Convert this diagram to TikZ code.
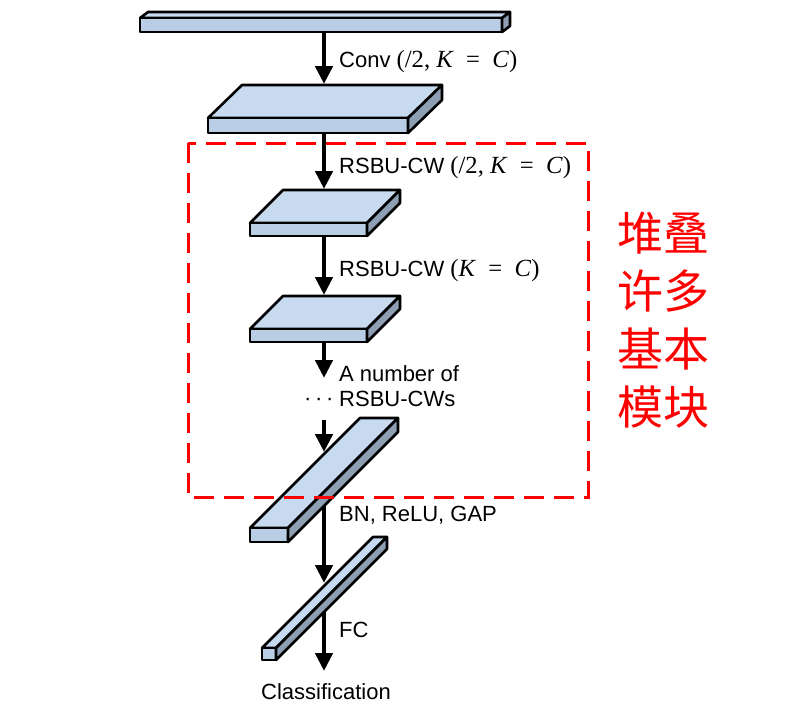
\documentclass[tikz,border=0pt]{standalone}
\usepackage{fontspec}
\setmainfont{Liberation Sans}
\newfontfamily\mth[Scale=1.12]{Liberation Serif}
\newfontfamily\cjk{Noto Sans CJK SC}
\usetikzlibrary{arrows.meta}
\definecolor{topfc}{RGB}{199,218,240}
\definecolor{frontfc}{RGB}{185,205,229}
\definecolor{sidefc}{RGB}{142,159,179}
% slab: x1, x2, top y, bottom y, depth x, depth y
\newcommand{\slab}[6]{%
  \filldraw[face,fill=topfc] (#1,#3) -- (#2,#3) -- ++(#5,-#6) -- (#1+#5,#3-#6) -- cycle;
  \filldraw[face,fill=frontfc] (#1,#3) rectangle (#2,#4);
  \filldraw[face,fill=sidefc] (#2,#3) -- ++(#5,-#6) -- (#2+#5,#4-#6) -- (#2,#4) -- cycle;}
% formula part of a label
\newcommand{\kc}[1]{{\mth(#1\textit{K}\enspace=\enspace\textit{C})}}
\begin{document}
\begin{tikzpicture}[x=1pt,y=-1pt,
    face/.style={draw=black,line width=2.6pt,line join=round},
    flow/.style={line width=4.6pt,-{Triangle[length=18pt,width=17pt]}},
    lbl/.style={anchor=west,inner sep=0pt,font=\fontsize{22}{26}\selectfont}]
  \useasboundingbox (0,0) rectangle (803,707);
  % end points of the arrows
  \coordinate (s1) at (324,31);
  \coordinate (s2n) at (324,84);
  \coordinate (s2) at (324,132);
  \coordinate (s3n) at (324,189);
  \coordinate (s3) at (324,235);
  \coordinate (s4n) at (324,295);
  \coordinate (s4) at (324,341);
  \coordinate (more) at (324,378);
  \coordinate (more2) at (324,420);
  \coordinate (s5n) at (324,452);
  \coordinate (s5) at (324,480);
  \coordinate (s6n) at (324,583);
  \coordinate (s6) at (324,600);
  \coordinate (cls) at (324,671);
  % arrows
  \draw[flow] (s1) -- (s2n);
  \draw[flow] (s2) -- (s3n);
  \draw[flow] (s3) -- (s4n);
  \draw[flow] (s4) -- (more);
  \draw[flow] (more2) -- (s5n);
  \draw[flow] (s5) -- (s6n);
  \draw[flow] (s6) -- (cls);
  % feature maps
  \slab{140}{502}{18}{32}{8}{6}
  \slab{208}{408}{118}{133}{34}{33}
  \slab{250}{367}{223}{236}{33}{33}
  \slab{250}{367}{329}{342}{33}{33}
  \slab{250}{288}{528}{542}{110}{110}
  \slab{262}{276}{648}{660}{111}{111}
  % labels
  \node[lbl] (conv) at (339,62) {Conv \kc{/2,~}};
  \node[lbl] (rsbu1) at (339,168) {RSBU-CW \kc{/2,~}};
  \node[lbl] (rsbu2) at (339,271) {RSBU-CW \kc{}};
  \node[lbl] (many) at (339,374) {A number of};
  \node[lbl] (many2) at (339,399) {RSBU-CWs};
  \node[lbl] (dots) at (304,402) {·\,·\,·};
  \node[lbl] (bn) at (339,515) {BN, ReLU, GAP};
  \node[lbl] (fc) at (339,630) {FC};
  \node[font=\fontsize{22}{26}\selectfont,inner sep=0pt] (out) at (326,692) {Classification};
  % stacked blocks
  \draw[red,line width=3pt,dash pattern=on 20pt off 10pt] (188,143) rectangle (588,497);
  \node[red,align=center,inner sep=0pt,font=\cjk\fontsize{46}{58}\selectfont] (note) at (663,320) {堆叠\\许多\\基本\\模块};
\end{tikzpicture}
\end{document}
